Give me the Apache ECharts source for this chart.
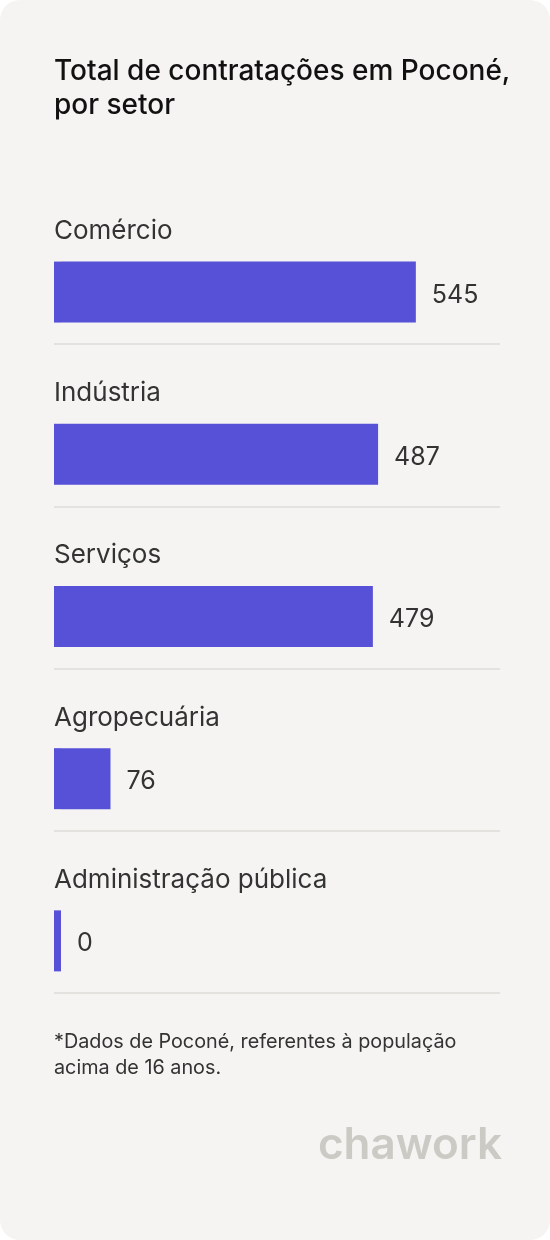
<!DOCTYPE html>
<html>
<head>
<meta charset="utf-8">
<script src="https://cdn.jsdelivr.net/npm/echarts@6/dist/echarts.min.js"></script>
<style>
  html, body { margin: 0; padding: 0; background: #ffffff; }
  #chart { width: 550px; height: 1240px; background: #f5f4f2; border-radius: 20px; }
</style>
</head>
<body>
<div id="chart"></div>
<script>
const categories = ['Comércio', 'Indústria', 'Serviços', 'Agropecuária', 'Administração pública'];
const values = [545, 487, 479, 76, 0];
const placeholder = [0, 0, 0, 0, 0];
// every bar gets a small visible stub so that zero still shows
const BAR_STUB = 10.75;
const stub = values.map(() => BAR_STUB);

const chart = echarts.init(document.getElementById('chart'));
const font = 'Inter, "Noto Sans", sans-serif';

chart.setOption({
    animation: false,
    textStyle: { fontFamily: font },
    title: {
        text: 'Total de contratações em Poconé,\npor setor',
        left: 49,
        top: 50,
        textStyle: { fontSize: 28, fontWeight: 500, color: '#111111', lineHeight: 34, fontFamily: font }
    },
    grid: { left: 54, width: 446, top: 182, height: 811 },
    xAxis: {
        type: 'value',
        min: 0,
        max: 685,
        show: false
    },
    yAxis: {
        type: 'category',
        data: categories,
        inverse: true,
        axisLine: { show: false },
        axisTick: { show: false },
        axisLabel: {
            inside: true,
            margin: 0,
            fontSize: 26,
            color: '#333333',
            fontFamily: font,
            verticalAlign: 'bottom',
            padding: [0, 0, 19, 0]
        },
        splitLine: {
            show: true,
            interval: (i) => i > 0,
            lineStyle: { color: '#dddcd8', width: 1.5 }
        },
        z: 5
    },
    series: [
        {
            type: 'bar',
            data: placeholder,
            barWidth: 61,
            barGap: '-5%',
            itemStyle: { color: 'transparent' },
            silent: true
        },
        {
            type: 'bar',
            stack: 'v',
            data: stub,
            barWidth: 61,
            itemStyle: { color: '#5651d6' },
            silent: true
        },
        {
            type: 'bar',
            stack: 'v',
            data: values,
            barWidth: 61,
            itemStyle: { color: '#5651d6' },
            label: {
                show: true,
                position: 'right',
                distance: 16,
                offset: [0, 3],
                fontSize: 25,
                color: '#333333',
                fontFamily: font
            }
        }
    ],
    graphic: [
        {
            type: 'text',
            left: 54,
            top: 1029,
            style: {
                text: '*Dados de Poconé, referentes à população\nacima de 16 anos.',
                fontSize: 19.8,
                lineHeight: 26,
                fill: '#333333',
                fontFamily: font
            }
        },
        {
            type: 'text',
            right: 48,
            top: 1124,
            style: {
                text: 'chawork',
                fontSize: 44,
                fontWeight: 600,
                fill: '#cbcac4',
                fontFamily: font
            }
        }
    ]
});
</script>
</body>
</html>
